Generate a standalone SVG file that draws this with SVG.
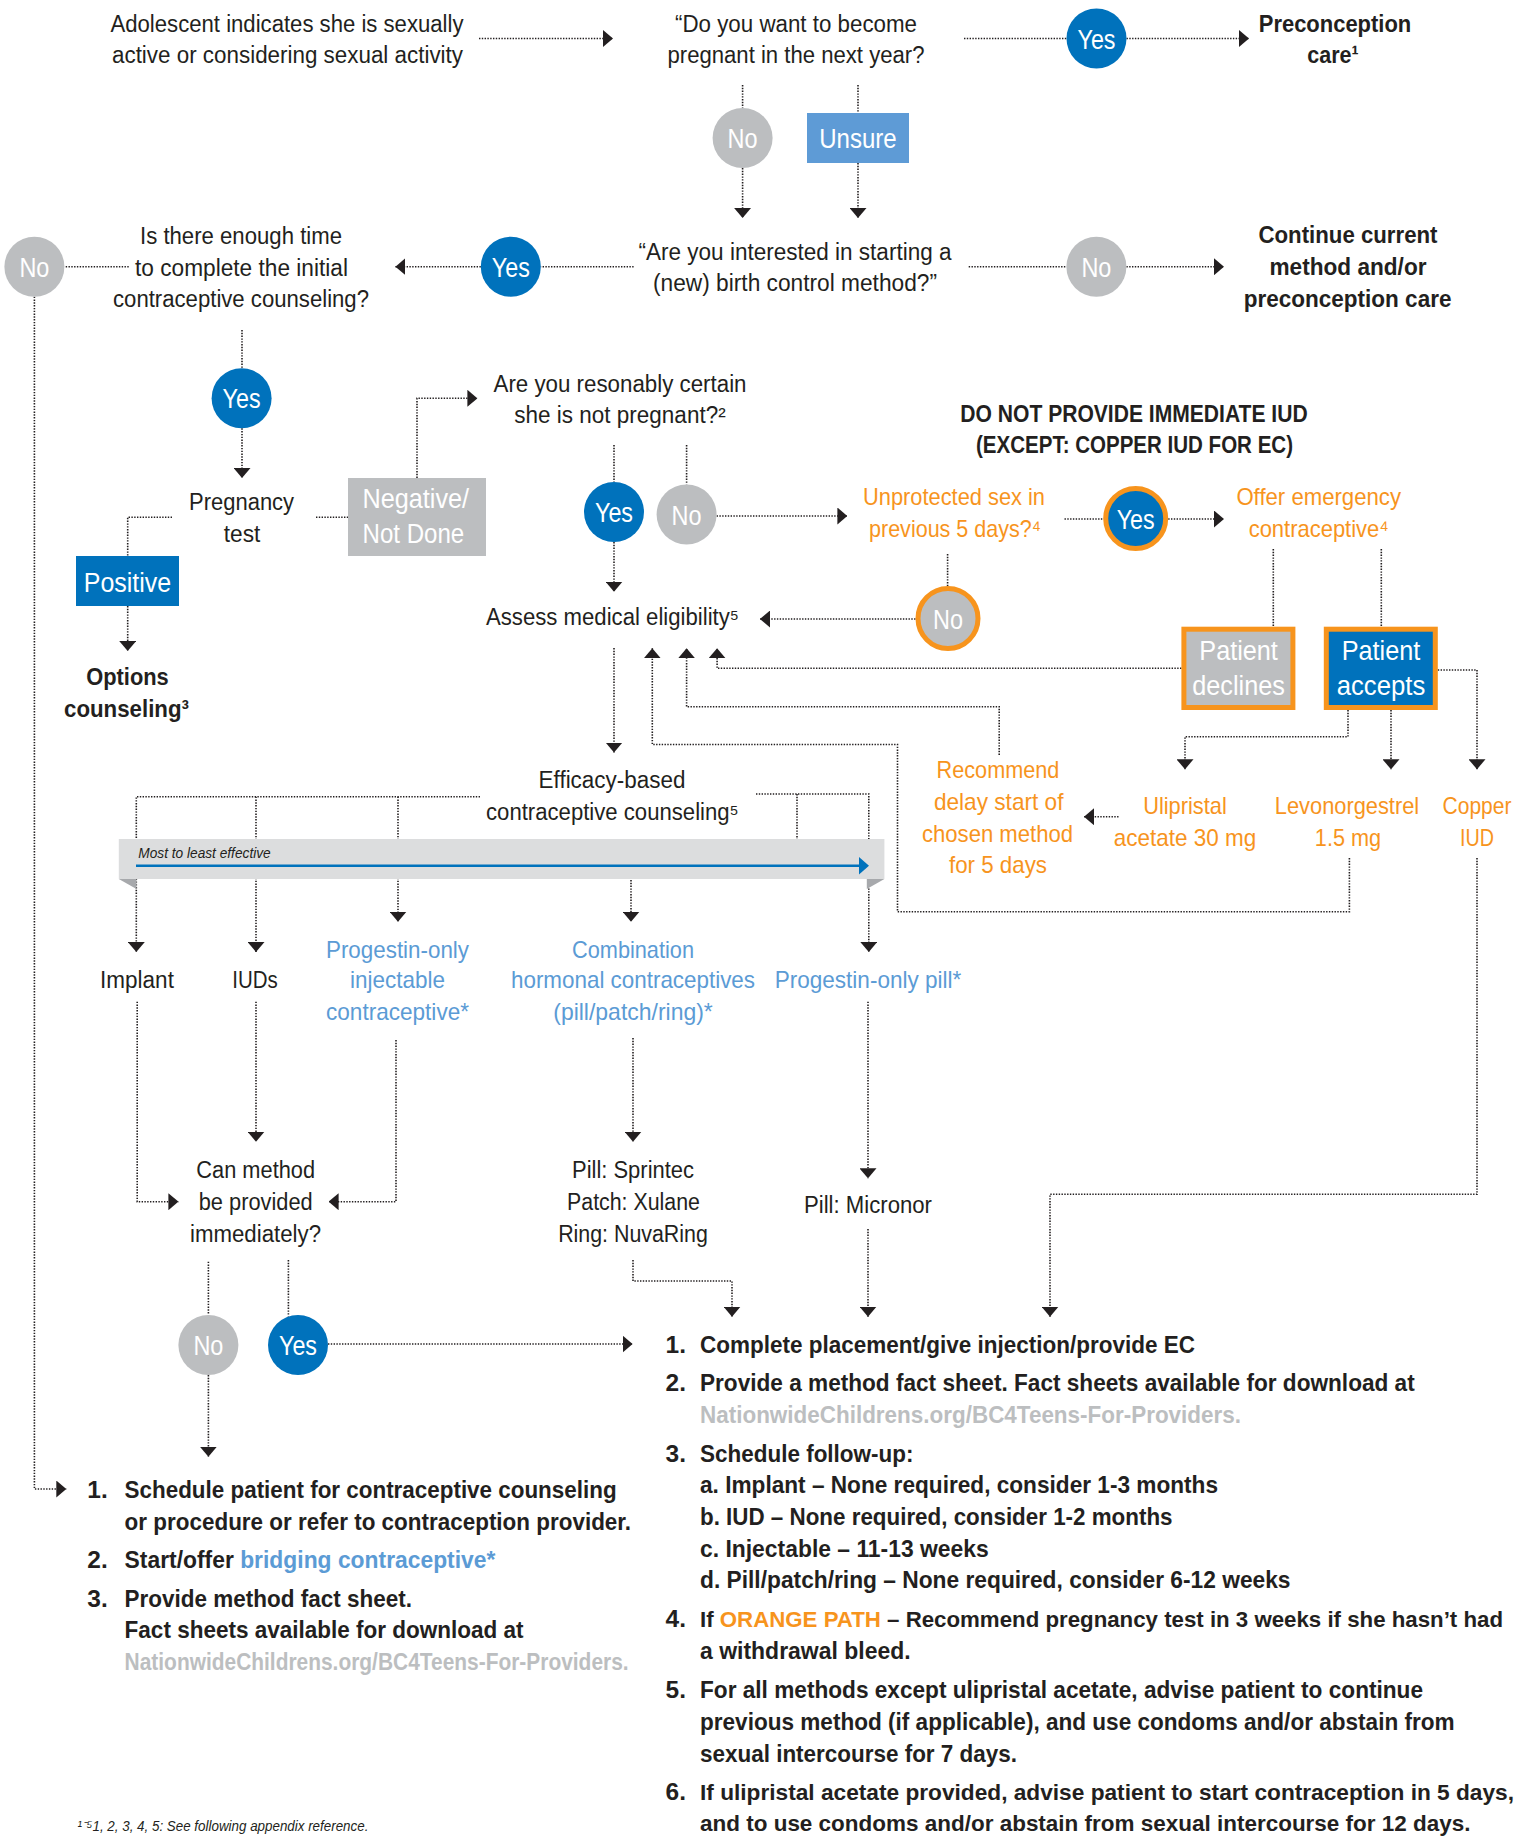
<svg xmlns="http://www.w3.org/2000/svg" width="1533" height="1836" viewBox="0 0 1533 1836">
<style>
text { font-family: "Liberation Sans", Arial, Helvetica, sans-serif; }
.r { font-size: 23px; fill: #231f20; text-anchor: middle; }
.b { font-size: 24.5px; font-weight: bold; fill: #231f20; text-anchor: middle; }
.o { font-size: 24px; fill: #f7941d; text-anchor: middle; }
.lb { font-size: 24px; fill: #5b9bd5; text-anchor: middle; }
.w { font-size: 27.5px; fill: #ffffff; text-anchor: middle; }
.L { font-size: 24.5px; font-weight: bold; fill: #231f20; }
.Ls { font-size: 22.8px; }
.url { fill: #bcbec0; }
.org { fill: #f7941d; }
.blu { fill: #5b9bd5; }
.c { fill: none; stroke: #231f20; stroke-width: 1.6; stroke-dasharray: 1.4 1.4; }
.cb { fill: #0072bc; }
.cg { fill: #bcbec0; }
.ring { stroke: #f7941d; stroke-width: 5; }
</style>
<defs>
<marker id="ah" viewBox="0 0 10 17" refX="10" refY="8.5" markerWidth="10" markerHeight="17" markerUnits="userSpaceOnUse" orient="auto">
<path d="M0,0 L10,8.5 L0,17 z" fill="#231f20"/>
</marker>
</defs>
<rect width="1533" height="1836" fill="#ffffff"/>

<g id="connectors">
<path class="c" d="M479,38.5 H613" marker-end="url(#ah)"/>
<path class="c" d="M964,38.5 H1066.5"/>
<path class="c" d="M1126.5,38.5 H1249" marker-end="url(#ah)"/>
<path class="c" d="M742.6,85 V108"/>
<path class="c" d="M742.6,168 V218" marker-end="url(#ah)"/>
<path class="c" d="M858,85 V113"/>
<path class="c" d="M858,163 V218" marker-end="url(#ah)"/>
<path class="c" d="M633.6,266.7 H540.8"/>
<path class="c" d="M480.8,266.7 H395.4" marker-end="url(#ah)"/>
<path class="c" d="M128.7,266.7 H64.4"/>
<path class="c" d="M34.4,296.7 V1489 H66.3" marker-end="url(#ah)"/>
<path class="c" d="M968.7,266.7 H1066.4"/>
<path class="c" d="M1126.4,266.7 H1224" marker-end="url(#ah)"/>
<path class="c" d="M242,330 V368.3"/>
<path class="c" d="M242,428.3 V478" marker-end="url(#ah)"/>
<path class="c" d="M172,517.3 H127.7 V556"/>
<path class="c" d="M127.7,606 V651" marker-end="url(#ah)"/>
<path class="c" d="M316,517.3 H348"/>
<path class="c" d="M417,478 V398.3 H477.4" marker-end="url(#ah)"/>
<path class="c" d="M614,445 V482"/>
<path class="c" d="M614,542 V591.7" marker-end="url(#ah)"/>
<path class="c" d="M686.6,445 V484.5"/>
<path class="c" d="M716.6,516 H847.4" marker-end="url(#ah)"/>
<path class="c" d="M1064.5,519 H1103.2"/>
<path class="c" d="M1168.2,519 H1224" marker-end="url(#ah)"/>
<path class="c" d="M947.6,554 V586"/>
<path class="c" d="M915.5,619 H760" marker-end="url(#ah)"/>
<path class="c" d="M1273.3,549 V626.7"/>
<path class="c" d="M1381.3,549 V626.7"/>
<path class="c" d="M1181.4,668.3 H717.1 V648.3" marker-end="url(#ah)"/>
<path class="c" d="M999.2,755 V706.7 H686.6 V648.3" marker-end="url(#ah)"/>
<path class="c" d="M1349.4,858 V911.7 H897.5 V744.5 H652.3 V648.3" marker-end="url(#ah)"/>
<path class="c" d="M1437.8,670 H1477 V769.3" marker-end="url(#ah)"/>
<path class="c" d="M1348,710 V736.7 H1185 V769.3" marker-end="url(#ah)"/>
<path class="c" d="M1391,710 V769.3" marker-end="url(#ah)"/>
<path class="c" d="M1118.5,816.7 H1084" marker-end="url(#ah)"/>
<path class="c" d="M614,648 V752.5" marker-end="url(#ah)"/>
<path class="c" d="M480,796.7 H136.3 V952" marker-end="url(#ah)"/>
<path class="c" d="M256,796.7 V952" marker-end="url(#ah)"/>
<path class="c" d="M398,796.7 V921.7" marker-end="url(#ah)"/>
<path class="c" d="M756,794 H868.8 V952" marker-end="url(#ah)"/>
<path class="c" d="M797,794 V860 H631 V921.7" marker-end="url(#ah)"/>
<path class="c" d="M137.2,1001.7 V1201.7 H178.4" marker-end="url(#ah)"/>
<path class="c" d="M256,1001.7 V1141.7" marker-end="url(#ah)"/>
<path class="c" d="M396,1040 V1201.7 H328.6" marker-end="url(#ah)"/>
<path class="c" d="M633,1038 V1141.7" marker-end="url(#ah)"/>
<path class="c" d="M633,1260 V1281 H732 V1316.7" marker-end="url(#ah)"/>
<path class="c" d="M868,1001.7 V1178.3" marker-end="url(#ah)"/>
<path class="c" d="M868,1229 V1316.7" marker-end="url(#ah)"/>
<path class="c" d="M1477,858 V1194.3 H1050 V1316.7" marker-end="url(#ah)"/>
<path class="c" d="M208.4,1261.7 V1315"/>
<path class="c" d="M208.4,1375 V1456.7" marker-end="url(#ah)"/>
<path class="c" d="M288.4,1260 V1316.6"/>
<path class="c" d="M328,1344 H632.6" marker-end="url(#ah)"/>
</g>

<g id="n-start">
<text class="r" x="287" y="32" textLength="353" lengthAdjust="spacingAndGlyphs">Adolescent indicates she is sexually</text>
<text class="r" x="287.5" y="63" textLength="351" lengthAdjust="spacingAndGlyphs">active or considering sexual activity</text>
</g>
<g id="n-q1">
<text class="r" x="796" y="32" textLength="242" lengthAdjust="spacingAndGlyphs">“Do you want to become</text>
<text class="r" x="796" y="63" textLength="257" lengthAdjust="spacingAndGlyphs">pregnant in the next year?</text>
</g>
<g id="n-yes1">
<circle class="cb" cx="1096.5" cy="38.5" r="30"/>
<text class="w" x="1096.5" y="48.5" textLength="38" lengthAdjust="spacingAndGlyphs">Yes</text>
</g>
<g id="n-precon">
<text class="b" x="1335" y="32" textLength="152.5" lengthAdjust="spacingAndGlyphs">Preconception</text>
<text class="b" x="1333" y="63" textLength="51.5" lengthAdjust="spacingAndGlyphs">care¹</text>
</g>
<g id="n-no1">
<circle class="cg" cx="742.6" cy="138" r="30"/>
<text class="w" x="742.6" y="148" textLength="30" lengthAdjust="spacingAndGlyphs">No</text>
</g>
<g id="n-unsure">
<rect x="807" y="113" width="102" height="50" fill="#5e9bd6"/>
<text class="w" x="858" y="148" textLength="77.5" lengthAdjust="spacingAndGlyphs">Unsure</text>
</g>
<g id="n-q2">
<text class="r" x="795" y="260" textLength="313" lengthAdjust="spacingAndGlyphs">“Are you interested in starting a</text>
<text class="r" x="795" y="291" textLength="284" lengthAdjust="spacingAndGlyphs">(new) birth control method?”</text>
</g>
<g id="n-yes2">
<circle class="cb" cx="510.8" cy="266.7" r="30"/>
<text class="w" x="510.8" y="276.7" textLength="38" lengthAdjust="spacingAndGlyphs">Yes</text>
</g>
<g id="n-no2">
<circle class="cg" cx="1096.4" cy="266.7" r="30"/>
<text class="w" x="1096.4" y="276.7" textLength="30" lengthAdjust="spacingAndGlyphs">No</text>
</g>
<g id="n-continue">
<text class="b" x="1348" y="243" textLength="179" lengthAdjust="spacingAndGlyphs">Continue current</text>
<text class="b" x="1348" y="275" textLength="157" lengthAdjust="spacingAndGlyphs">method and/or</text>
<text class="b" x="1347.6" y="307" textLength="207.7" lengthAdjust="spacingAndGlyphs">preconception care</text>
</g>
<g id="n-q3">
<text class="r" x="241" y="244" textLength="202" lengthAdjust="spacingAndGlyphs">Is there enough time</text>
<text class="r" x="241.5" y="275.5" textLength="213" lengthAdjust="spacingAndGlyphs">to complete the initial</text>
<text class="r" x="241" y="307" textLength="256" lengthAdjust="spacingAndGlyphs">contraceptive counseling?</text>
</g>
<g id="n-no3">
<circle class="cg" cx="34.4" cy="266.7" r="30"/>
<text class="w" x="34.4" y="276.7" textLength="30" lengthAdjust="spacingAndGlyphs">No</text>
</g>
<g id="n-yes3">
<circle class="cb" cx="241.6" cy="398.3" r="30"/>
<text class="w" x="241.6" y="408.3" textLength="38" lengthAdjust="spacingAndGlyphs">Yes</text>
</g>
<g id="n-pregtest">
<text class="r" x="241.6" y="510" textLength="105" lengthAdjust="spacingAndGlyphs">Pregnancy</text>
<text class="r" x="242" y="541.5" textLength="36.5" lengthAdjust="spacingAndGlyphs">test</text>
</g>
<g id="n-positive">
<rect x="76" y="556" width="103" height="50" fill="#0072bc"/>
<text class="w" x="127.5" y="592" textLength="87.5" lengthAdjust="spacingAndGlyphs">Positive</text>
</g>
<g id="n-options">
<text class="b" x="127.5" y="685" textLength="82.5" lengthAdjust="spacingAndGlyphs">Options</text>
<text class="b" x="126.5" y="716.7" textLength="125" lengthAdjust="spacingAndGlyphs">counseling³</text>
</g>
<g id="n-negative">
<rect x="348" y="478" width="138" height="78" fill="#bcbec0"/>
<text class="w" x="362.5" y="508" style="text-anchor:start" textLength="106.6" lengthAdjust="spacingAndGlyphs">Negative/</text>
<text class="w" x="362.5" y="543" style="text-anchor:start" textLength="101.7" lengthAdjust="spacingAndGlyphs">Not Done</text>
</g>
<g id="n-q4">
<text class="r" x="620" y="391.7" textLength="253" lengthAdjust="spacingAndGlyphs">Are you resonably certain</text>
<text class="r" x="620" y="423.3" textLength="211.3" lengthAdjust="spacingAndGlyphs">she is not pregnant?²</text>
</g>
<g id="n-yes4">
<circle class="cb" cx="614" cy="512" r="30"/>
<text class="w" x="614" y="522" textLength="38" lengthAdjust="spacingAndGlyphs">Yes</text>
</g>
<g id="n-no4">
<circle class="cg" cx="686.6" cy="514.5" r="30"/>
<text class="w" x="686.6" y="524.5" textLength="30" lengthAdjust="spacingAndGlyphs">No</text>
</g>
<g id="n-assess">
<text class="r" x="612.5" y="625" textLength="253" lengthAdjust="spacingAndGlyphs">Assess medical eligibility⁵</text>
</g>
<g id="n-warning">
<text class="b" x="1134" y="421.7" textLength="347.3" lengthAdjust="spacingAndGlyphs">DO NOT PROVIDE IMMEDIATE IUD</text>
<text class="b" x="1134.5" y="452.7" textLength="317" lengthAdjust="spacingAndGlyphs">(EXCEPT: COPPER IUD FOR EC)</text>
</g>
<g id="n-unprot">
<text class="o" x="954" y="505" textLength="182" lengthAdjust="spacingAndGlyphs">Unprotected sex in</text>
<text class="o" x="955" y="536.7" textLength="172" lengthAdjust="spacingAndGlyphs">previous 5 days?⁴</text>
</g>
<g id="n-yes5">
<circle class="cb ring" cx="1135.7" cy="518.5" r="30"/>
<text class="w" x="1135.7" y="528.5" textLength="38" lengthAdjust="spacingAndGlyphs">Yes</text>
</g>
<g id="n-offer">
<text class="o" x="1318.7" y="505" textLength="164.6" lengthAdjust="spacingAndGlyphs">Offer emergency</text>
<text class="o" x="1318.7" y="536.7" textLength="140" lengthAdjust="spacingAndGlyphs">contraceptive⁴</text>
</g>
<g id="n-no5">
<circle class="cg ring" cx="948" cy="618.5" r="30"/>
<text class="w" x="948" y="628.5" textLength="30" lengthAdjust="spacingAndGlyphs">No</text>
</g>
<g id="n-declines">
<rect class="ring" x="1183.9" y="629.2" width="109" height="78.3" fill="#bcbec0"/>
<text class="w" x="1238.6" y="660" textLength="78.6" lengthAdjust="spacingAndGlyphs">Patient</text>
<text class="w" x="1238.6" y="695" textLength="92.6" lengthAdjust="spacingAndGlyphs">declines</text>
</g>
<g id="n-accepts">
<rect class="ring" x="1326.3" y="629.2" width="109" height="78.3" fill="#0072bc"/>
<text class="w" x="1381" y="660" textLength="78.6" lengthAdjust="spacingAndGlyphs">Patient</text>
<text class="w" x="1381" y="695" textLength="88.5" lengthAdjust="spacingAndGlyphs">accepts</text>
</g>
<g id="n-recommend">
<text class="o" x="998" y="778.3" textLength="122.8" lengthAdjust="spacingAndGlyphs">Recommend</text>
<text class="o" x="998.7" y="810" textLength="129.5" lengthAdjust="spacingAndGlyphs">delay start of</text>
<text class="o" x="997.5" y="841.7" textLength="151" lengthAdjust="spacingAndGlyphs">chosen method</text>
<text class="o" x="998" y="873.3" textLength="98" lengthAdjust="spacingAndGlyphs">for 5 days</text>
</g>
<g id="n-ulip">
<text class="o" x="1185" y="814" textLength="83.6" lengthAdjust="spacingAndGlyphs">Ulipristal</text>
<text class="o" x="1185" y="846" textLength="142.4" lengthAdjust="spacingAndGlyphs">acetate 30 mg</text>
</g>
<g id="n-levo">
<text class="o" x="1347" y="814" textLength="144.3" lengthAdjust="spacingAndGlyphs">Levonorgestrel</text>
<text class="o" x="1348" y="846" textLength="66.3" lengthAdjust="spacingAndGlyphs">1.5 mg</text>
</g>
<g id="n-copper">
<text class="o" x="1477" y="814" textLength="68.8" lengthAdjust="spacingAndGlyphs">Copper</text>
<text class="o" x="1477" y="846" textLength="34" lengthAdjust="spacingAndGlyphs">IUD</text>
</g>
<g id="n-efficacy">
<text class="r" x="612" y="788.3" textLength="146.8" lengthAdjust="spacingAndGlyphs">Efficacy-based</text>
<text class="r" x="612.4" y="820" textLength="252.8" lengthAdjust="spacingAndGlyphs">contraceptive counseling⁵</text>
</g>
<g id="n-bar">
<rect x="118.8" y="839" width="765.6" height="40" fill="#dcddde"/>
<polygon points="118.8,879 136.5,879 136.5,889" fill="#a7a9ac"/>
<polygon points="884.4,879 866.8,879 866.8,889" fill="#a7a9ac"/>
<text x="138.3" y="858.3" font-size="14" font-style="italic" fill="#231f20" textLength="132.4" lengthAdjust="spacingAndGlyphs">Most to least effective</text>
<line x1="136" y1="865.7" x2="860" y2="865.7" stroke="#0072bc" stroke-width="2.6"/>
<polygon points="859,857 869,865.7 859,874.4" fill="#0072bc"/>
</g>
<g id="n-implant">
<text class="r" x="137" y="988" textLength="73.8" lengthAdjust="spacingAndGlyphs">Implant</text>
</g>
<g id="n-iuds">
<text class="r" x="255" y="988" textLength="45.5" lengthAdjust="spacingAndGlyphs">IUDs</text>
</g>
<g id="n-injectable">
<text class="lb" x="397.5" y="958.3" textLength="143" lengthAdjust="spacingAndGlyphs">Progestin-only</text>
<text class="lb" x="397.5" y="988" textLength="95" lengthAdjust="spacingAndGlyphs">injectable</text>
<text class="lb" x="397.5" y="1020" textLength="143" lengthAdjust="spacingAndGlyphs">contraceptive*</text>
</g>
<g id="n-combination">
<text class="lb" x="633" y="958.3" textLength="122" lengthAdjust="spacingAndGlyphs">Combination</text>
<text class="lb" x="633" y="988" textLength="244" lengthAdjust="spacingAndGlyphs">hormonal contraceptives</text>
<text class="lb" x="633" y="1020" textLength="159.5" lengthAdjust="spacingAndGlyphs">(pill/patch/ring)*</text>
</g>
<g id="n-pop">
<text class="lb" x="868" y="988" textLength="186.7" lengthAdjust="spacingAndGlyphs">Progestin-only pill*</text>
</g>
<g id="n-canmethod">
<text class="r" x="255.7" y="1178.3" textLength="118.7" lengthAdjust="spacingAndGlyphs">Can method</text>
<text class="r" x="255.7" y="1210" textLength="114" lengthAdjust="spacingAndGlyphs">be provided</text>
<text class="r" x="255.5" y="1241.7" textLength="131" lengthAdjust="spacingAndGlyphs">immediately?</text>
</g>
<g id="n-brands">
<text class="r" x="633" y="1178.3" textLength="122" lengthAdjust="spacingAndGlyphs">Pill: Sprintec</text>
<text class="r" x="633.5" y="1210" textLength="133" lengthAdjust="spacingAndGlyphs">Patch: Xulane</text>
<text class="r" x="633" y="1241.7" textLength="149.7" lengthAdjust="spacingAndGlyphs">Ring: NuvaRing</text>
</g>
<g id="n-micronor">
<text class="r" x="868" y="1213.3" textLength="128" lengthAdjust="spacingAndGlyphs">Pill: Micronor</text>
</g>
<g id="n-no6">
<circle class="cg" cx="208.4" cy="1345" r="30"/>
<text class="w" x="208.4" y="1355" textLength="30" lengthAdjust="spacingAndGlyphs">No</text>
</g>
<g id="n-yes6">
<circle class="cb" cx="298" cy="1345" r="30"/>
<text class="w" x="298" y="1355" textLength="38" lengthAdjust="spacingAndGlyphs">Yes</text>
</g>
<g id="n-listleft">
<text class="L" x="87.3" y="1498.3">1.</text>
<text class="L" x="124.6" y="1498.3" textLength="492" lengthAdjust="spacingAndGlyphs">Schedule patient for contraceptive counseling</text>
<text class="L" x="124.6" y="1530" textLength="506.5" lengthAdjust="spacingAndGlyphs">or procedure or refer to contraception provider.</text>
<text class="L" x="87.3" y="1568.3">2.</text>
<text class="L" x="124.6" y="1568.3" textLength="370.8" lengthAdjust="spacingAndGlyphs">Start/offer <tspan class="blu">bridging contraceptive*</tspan></text>
<text class="L" x="87.3" y="1606.7">3.</text>
<text class="L" x="124.6" y="1606.7" textLength="287.4" lengthAdjust="spacingAndGlyphs">Provide method fact sheet.</text>
<text class="L" x="124.6" y="1638.3" textLength="399" lengthAdjust="spacingAndGlyphs">Fact sheets available for download at</text>
<text class="L url" x="124.6" y="1670" textLength="504" lengthAdjust="spacingAndGlyphs">NationwideChildrens.org/BC4Teens-For-Providers.</text>
</g>
<g id="n-listright">
<text class="L" x="665.6" y="1353.3">1.</text>
<text class="L" x="700" y="1353.3" textLength="495" lengthAdjust="spacingAndGlyphs">Complete placement/give injection/provide EC</text>
<text class="L" x="665.6" y="1390.7">2.</text>
<text class="L" x="700" y="1390.7" textLength="714.7" lengthAdjust="spacingAndGlyphs">Provide a method fact sheet. Fact sheets available for download at</text>
<text class="L url" x="700" y="1422.7" textLength="541" lengthAdjust="spacingAndGlyphs">NationwideChildrens.org/BC4Teens-For-Providers.</text>
<text class="L" x="665.6" y="1461.7">3.</text>
<text class="L" x="700" y="1461.7" textLength="213.5" lengthAdjust="spacingAndGlyphs">Schedule follow-up:</text>
<text class="L" x="700" y="1492.7" textLength="518" lengthAdjust="spacingAndGlyphs">a. Implant – None required, consider 1-3 months</text>
<text class="L" x="700" y="1525" textLength="472.5" lengthAdjust="spacingAndGlyphs">b. IUD – None required, consider 1-2 months</text>
<text class="L" x="700" y="1556.7" textLength="288.7" lengthAdjust="spacingAndGlyphs">c. Injectable – 11-13 weeks</text>
<text class="L" x="700" y="1588.3" textLength="590.5" lengthAdjust="spacingAndGlyphs">d. Pill/patch/ring – None required, consider 6-12 weeks</text>
<text class="L" x="665.6" y="1626.7">4.</text>
<text class="L Ls" x="700" y="1626.7" textLength="803" lengthAdjust="spacingAndGlyphs">If <tspan class="org">ORANGE PATH</tspan> – Recommend pregnancy test in 3 weeks if she hasn’t had</text>
<text class="L" x="700" y="1659.3" textLength="210.7" lengthAdjust="spacingAndGlyphs">a withdrawal bleed.</text>
<text class="L" x="665.6" y="1698.3">5.</text>
<text class="L" x="700" y="1698.3" textLength="723" lengthAdjust="spacingAndGlyphs">For all methods except ulipristal acetate, advise patient to continue</text>
<text class="L" x="700" y="1730" textLength="754.6" lengthAdjust="spacingAndGlyphs">previous method (if applicable), and use condoms and/or abstain from</text>
<text class="L" x="700" y="1761.7" textLength="317" lengthAdjust="spacingAndGlyphs">sexual intercourse for 7 days.</text>
<text class="L" x="665.6" y="1800">6.</text>
<text class="L Ls" x="700" y="1800" textLength="814" lengthAdjust="spacingAndGlyphs">If ulipristal acetate provided, advise patient to start contraception in 5 days,</text>
<text class="L Ls" x="700" y="1830.5" textLength="770.5" lengthAdjust="spacingAndGlyphs">and to use condoms and/or abstain from sexual intercourse for 12 days.</text>
</g>
<g id="n-footnote">
<text x="77.6" y="1830.5" font-size="14" font-style="italic" fill="#231f20" textLength="290.8" lengthAdjust="spacingAndGlyphs">¹⁻⁵1, 2, 3, 4, 5: See following appendix reference.</text>
</g>
</svg>
